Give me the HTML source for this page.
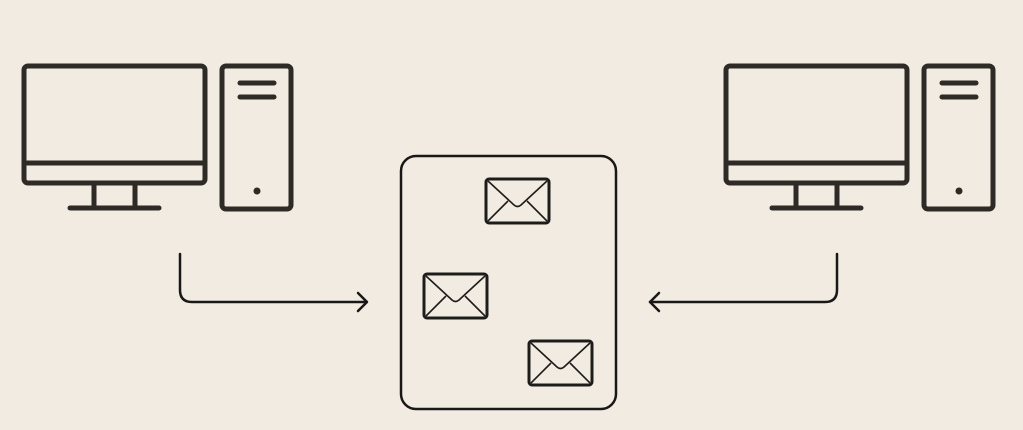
<!DOCTYPE html>
<html><head><style>html,body{margin:0;padding:0;background:#f1ebe1;}svg{display:block}</style></head>
<body>
<svg width="1023" height="430" viewBox="0 0 1023 430" xmlns="http://www.w3.org/2000/svg">
<rect width="1023" height="430" fill="#f1ebe1"/>
<defs>
<g id="pc" fill="none" stroke="#2e2a26" stroke-width="5" stroke-linecap="round" stroke-linejoin="round">
<rect x="24" y="66" width="181" height="117" rx="4"/>
<line x1="24" y1="163" x2="205" y2="163"/>
<line x1="94" y1="183" x2="94" y2="207"/>
<line x1="135" y1="183" x2="135" y2="207"/>
<line x1="70" y1="208" x2="159" y2="208"/>
<rect x="222" y="66" width="69" height="143" rx="4"/>
<line x1="240" y1="83" x2="274" y2="83"/>
<line x1="240" y1="97" x2="274" y2="97"/>
<circle cx="257" cy="191" r="3.5" fill="#2e2a26" stroke="none"/>
</g>
<g id="env" fill="none" stroke="#1e1c1a" stroke-linejoin="round">
<rect x="0" y="0" width="63" height="44" rx="3" stroke-width="3"/>
<path d="M2 2 L28 26 Q31.5 29 35 26 L61 2" stroke-width="1.6"/>
<line x1="2" y1="42" x2="22" y2="22" stroke-width="1.6"/>
<line x1="61" y1="42" x2="41" y2="22" stroke-width="1.6"/>
</g>
</defs>
<use href="#pc"/>
<use href="#pc" transform="translate(702,0)"/>
<g fill="none" stroke="#1a1816" stroke-width="2.5" stroke-linecap="round" stroke-linejoin="round">
<path d="M180 254 V290 Q180 302 192 302 H366"/>
<path d="M358 293 L367 302 L358 311"/>
<path d="M837 254 V290 Q837 302 825 302 H650"/>
<path d="M659 293 L650 302 L659 311"/>
<rect x="401" y="156" width="215" height="253" rx="15"/>
</g>
<use href="#env" transform="translate(486,179)"/>
<use href="#env" transform="translate(424,274)"/>
<use href="#env" transform="translate(529,341)"/>
</svg>
</body></html>
